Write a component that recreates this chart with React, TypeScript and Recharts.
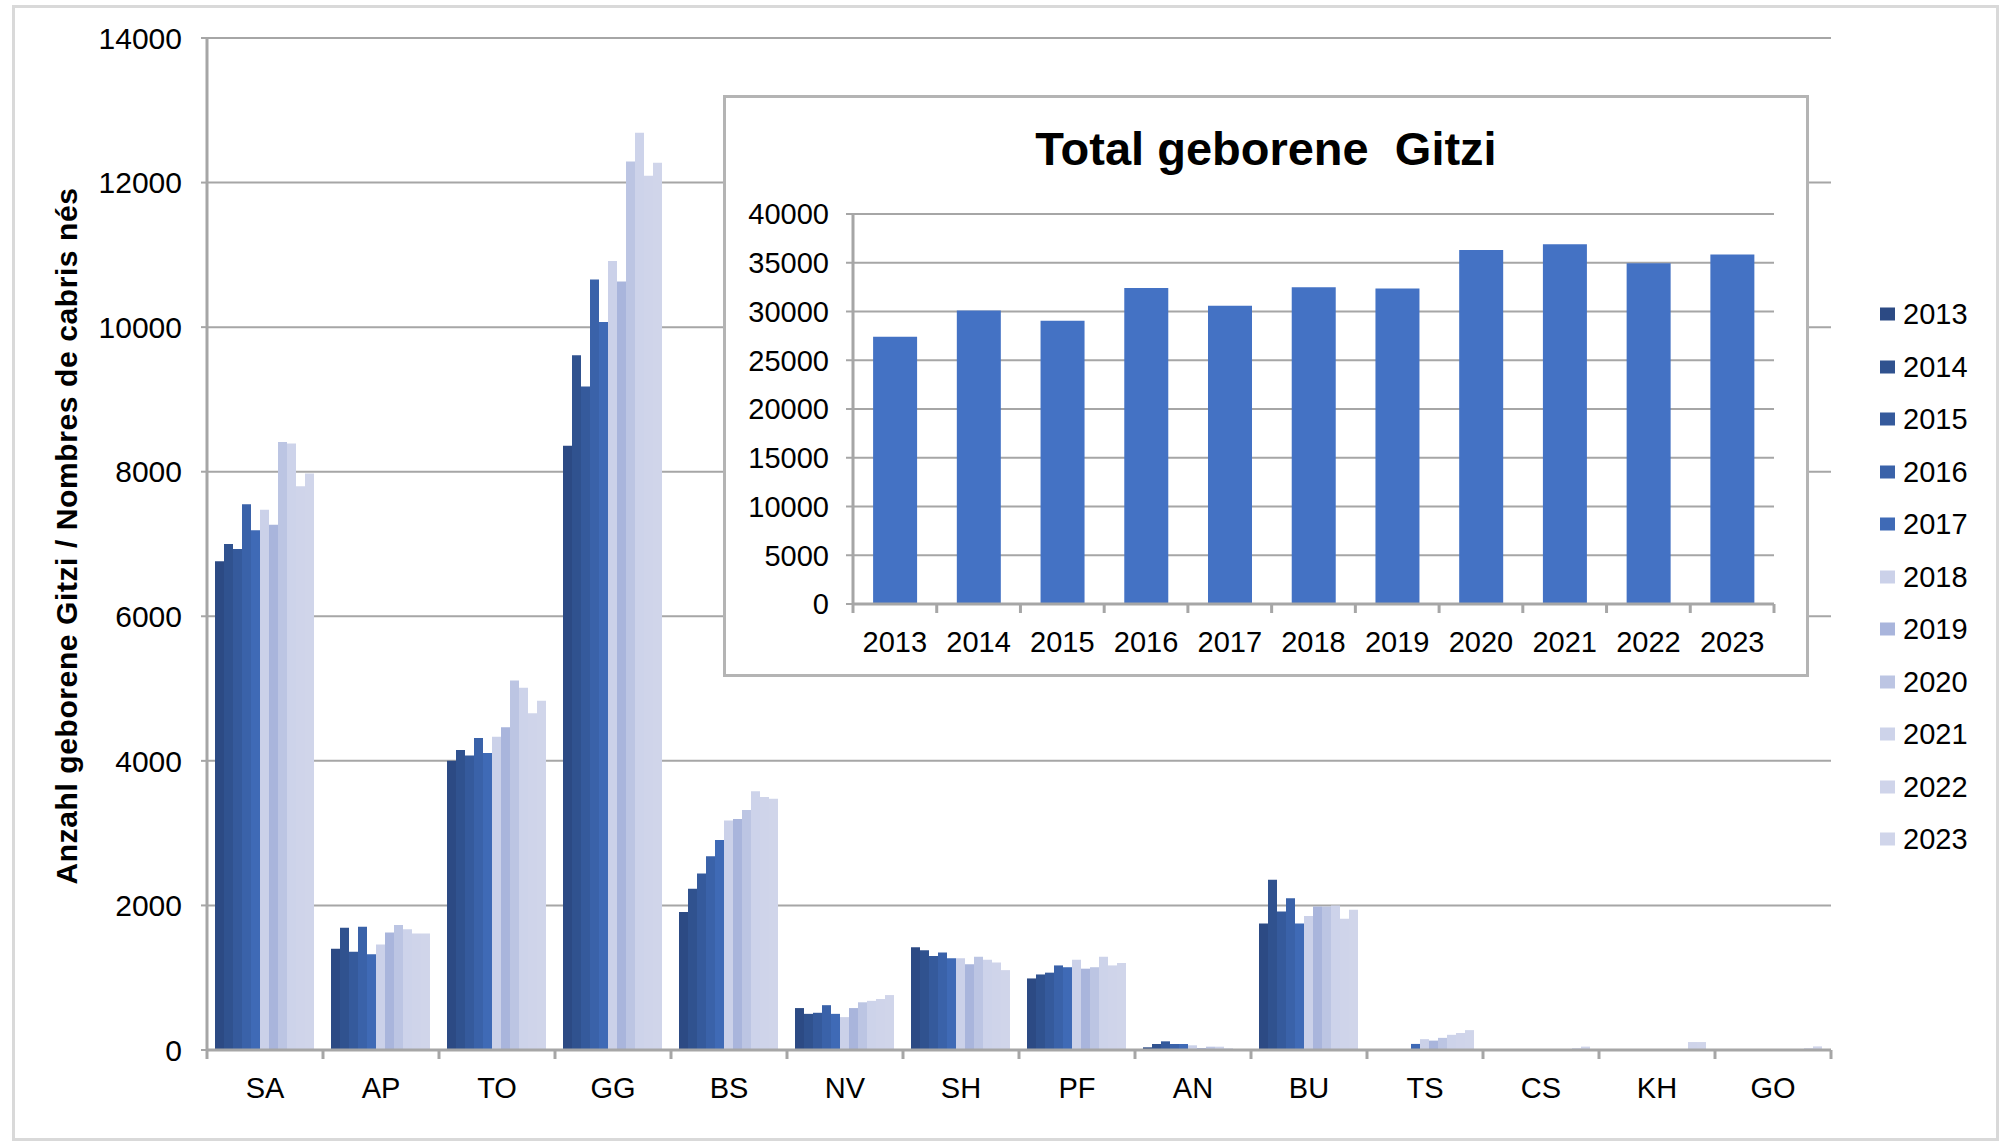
import React from 'react';
import { BarChart, Bar, XAxis, YAxis, CartesianGrid } from 'recharts';

const REGIONS = ['SA', 'AP', 'TO', 'GG', 'BS', 'NV', 'SH', 'PF', 'AN', 'BU', 'TS', 'CS', 'KH', 'GO'];
const YEARS = ['2013', '2014', '2015', '2016', '2017', '2018', '2019', '2020', '2021', '2022', '2023'];

// born kids per region, one array per year (same order as REGIONS)
const Y2013 = [6760, 1400, 4000, 8360, 1910, 580, 1420, 990, 37, 1750, 0, 0, 0, 0];
const Y2014 = [7000, 1690, 4150, 9610, 2230, 500, 1380, 1045, 83, 2355, 0, 0, 0, 0];
const Y2015 = [6930, 1360, 4075, 9180, 2440, 515, 1300, 1070, 120, 1915, 0, 0, 0, 0];
const Y2016 = [7550, 1705, 4315, 10660, 2680, 620, 1350, 1170, 83, 2100, 0, 0, 0, 0];
const Y2017 = [7190, 1325, 4110, 10070, 2905, 500, 1270, 1145, 83, 1750, 84, 0, 0, 0];
const Y2018 = [7475, 1460, 4335, 10915, 3175, 455, 1270, 1250, 65, 1855, 150, 0, 0, 0];
const Y2019 = [7265, 1625, 4465, 10630, 3195, 580, 1185, 1125, 28, 1985, 130, 0, 0, 0];
const Y2020 = [8410, 1730, 5110, 12290, 3320, 660, 1290, 1145, 46, 1985, 168, 0, 0, 0];
const Y2021 = [8390, 1670, 5010, 12690, 3580, 680, 1250, 1290, 46, 2000, 210, 0, 0, 0];
const Y2022 = [7800, 1610, 4660, 12095, 3500, 705, 1210, 1170, 23, 1815, 235, 25, 110, 25];
const Y2023 = [7975, 1610, 4830, 12275, 3475, 760, 1105, 1205, 5, 1940, 275, 47, 110, 50];
const SERIES = [Y2013, Y2014, Y2015, Y2016, Y2017, Y2018, Y2019, Y2020, Y2021, Y2022, Y2023];

const COLORS = [
  '#2C4A84', '#30528F', '#355A9C', '#3A62A9', '#3F6AB6',
  '#CBD1E9', '#A9B5DC', '#BCC5E3', '#CDD3EA', '#CFD4EA', '#D0D5EA',
];

// inset: total born per year
const TOTALS = [27400, 30100, 29050, 32400, 30600, 32500, 32350, 36300, 36900, 34950, 35850];

const MAIN_TICKS = [0, 2000, 4000, 6000, 8000, 10000, 12000, 14000];
const INSET_TICKS = [0, 5000, 10000, 15000, 20000, 25000, 30000, 35000, 40000];

const mainData = REGIONS.map((r, i) => {
  const row: Record<string, any> = { region: r };
  YEARS.forEach((y, k) => { row['y' + y] = SERIES[k][i]; });
  return row;
});
const insetData = YEARS.map((y, i) => ({ year: y, total: TOTALS[i] }));

const FONT = '"Liberation Sans", Arial, sans-serif';
const GRID = '#A6A6A6';

// category label plus Excel-style tick marks on the category boundaries
const BoundaryTick = (props: any) => {
  const { x, y, payload, index, visibleTicksCount, lineGap, labelSize } = props;
  const half = payload && payload.offset ? payload.offset : 0;
  const axisY = y - lineGap;
  const last = index === visibleTicksCount - 1;
  return (
    <g>
      <line x1={x - half} y1={axisY} x2={x - half} y2={axisY + 9} stroke={GRID} strokeWidth={3} />
      {last && <line x1={x + half} y1={axisY} x2={x + half} y2={axisY + 9} stroke={GRID} strokeWidth={3} />}
      <text x={x} y={y} dy="0.71em" textAnchor="middle" fill="#000" fontSize={labelSize} fontFamily={FONT}>
        {payload.value}
      </text>
    </g>
  );
};

export default function App() {
  return (
    <div style={{ position: 'absolute', left: 0, top: 0, width: 2008, height: 1145, background: '#fff', fontFamily: FONT }}>
      <div style={{ position: 'absolute', left: 12, top: 5, width: 1987, height: 1136, border: '3px solid #D9D9D9', boxSizing: 'border-box' }} />

      <div style={{ position: 'absolute', left: 0, top: 0 }}>
        <BarChart width={2008} height={1145} data={mainData} margin={{ top: 38, right: 177, bottom: 0, left: 0 }}
          barCategoryGap={8} barGap={0}>
          <CartesianGrid vertical={false} stroke={GRID} strokeWidth={2} />
          <XAxis dataKey="region" interval={0} height={95} tickSize={0} tickMargin={27}
            axisLine={{ stroke: GRID, strokeWidth: 3 }} tickLine={false}
            tick={<BoundaryTick lineGap={27} labelSize={29} />} />
          <YAxis width={207} domain={[0, 14000]} ticks={MAIN_TICKS} interval={0} tickSize={6} tickMargin={19}
            axisLine={{ stroke: GRID, strokeWidth: 3 }} tickLine={{ stroke: GRID, strokeWidth: 2 }}
            tick={{ fill: '#000', fontSize: 30, fontFamily: FONT }} />
          {YEARS.map((y, k) => (
            <Bar key={y} dataKey={'y' + y} name={y} fill={COLORS[k]} isAnimationActive={false} />
          ))}
        </BarChart>
      </div>

      <div style={{
        position: 'absolute', left: 67, top: 536, transform: 'translate(-50%, -50%) rotate(-90deg)',
        whiteSpace: 'nowrap', fontWeight: 'bold', fontSize: 30, letterSpacing: 0.6, lineHeight: 1, color: '#000',
      }}>
        Anzahl geborene Gitzi / Nombres de cabris nés
      </div>

      {YEARS.map((y, k) => (
        <div key={y} style={{ position: 'absolute', left: 1880, top: 314 + k * 52.5, transform: 'translateY(-50%)', display: 'flex', alignItems: 'center' }}>
          <div style={{ width: 15, height: 13, background: COLORS[k], marginRight: 8 }} />
          <span style={{ fontSize: 29, lineHeight: 1, color: '#000' }}>{y}</span>
        </div>
      ))}

      <div style={{ position: 'absolute', left: 723, top: 95, width: 1086, height: 582, background: '#fff', border: '3px solid #B4B4B4', boxSizing: 'border-box' }}>
        <div style={{ position: 'absolute', left: 0, right: 0, top: 27, textAlign: 'center', fontWeight: 'bold', fontSize: 47, lineHeight: 1, whiteSpace: 'pre', color: '#000' }}>
          Total geborene  Gitzi
        </div>
        <BarChart width={1080} height={576} data={insetData} margin={{ top: 116, right: 32, bottom: 0, left: 0 }}
          barCategoryGap="24%">
          <CartesianGrid vertical={false} stroke={GRID} strokeWidth={2} />
          <XAxis dataKey="year" interval={0} height={70} tickSize={0} tickMargin={27}
            axisLine={{ stroke: GRID, strokeWidth: 3 }} tickLine={false}
            tick={<BoundaryTick lineGap={27} labelSize={29} />} />
          <YAxis width={127} domain={[0, 40000]} ticks={INSET_TICKS} interval={0} tickSize={7} tickMargin={17}
            axisLine={{ stroke: GRID, strokeWidth: 3 }} tickLine={{ stroke: GRID, strokeWidth: 2 }}
            tick={{ fill: '#000', fontSize: 29, fontFamily: FONT }} />
          <Bar dataKey="total" fill="#4472C4" isAnimationActive={false} />
        </BarChart>
      </div>
    </div>
  );
}
